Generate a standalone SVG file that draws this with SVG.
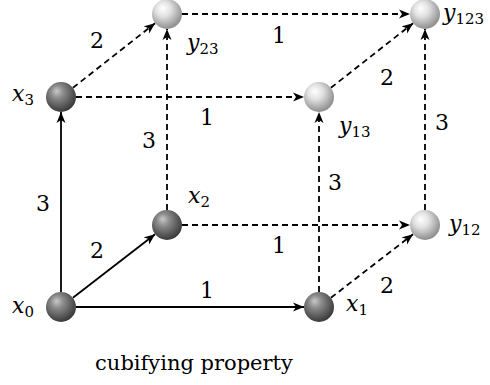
<svg xmlns="http://www.w3.org/2000/svg" width="490" height="385" viewBox="0 0 490 385" font-family="DejaVu Serif, Liberation Serif, serif">
<defs>
<radialGradient id="gDark" cx="0.42" cy="0.38" r="0.62" fx="0.35" fy="0.3">
<stop offset="0" stop-color="#c8c8c8"/>
<stop offset="0.35" stop-color="#8a8a8a"/>
<stop offset="1" stop-color="#3a3a3a"/>
</radialGradient>
<radialGradient id="gLight" cx="0.42" cy="0.38" r="0.62" fx="0.35" fy="0.3">
<stop offset="0" stop-color="#ffffff"/>
<stop offset="0.4" stop-color="#e2e2e2"/>
<stop offset="1" stop-color="#8e8e8e"/>
</radialGradient>
<marker id="arr" markerUnits="userSpaceOnUse" markerWidth="12" markerHeight="10" refX="11" refY="5" orient="auto" viewBox="0 0 12 10">
<path d="M0,0.5 L11,5 L0,9.5 L3,5 Z" fill="#000"/>
</marker>
</defs>
<style>
.e{stroke:#000;stroke-width:1.8;fill:none;marker-end:url(#arr)}
.d{stroke-dasharray:6 4}
text{font-size:22px;fill:#000}
.v{font-style:italic}
.s{font-size:15px;font-style:normal}
.cap{font-size:21px}
.dk{fill:url(#gDark)}
.lt{fill:url(#gLight)}
</style>
<g id="connectors">
<line class="e" x1="76" y1="307" x2="304" y2="307"/>
<line class="e" x1="61" y1="292" x2="61" y2="112"/>
<line class="e" x1="72.9" y1="297.8" x2="155.1" y2="234.2"/>
<line class="e d" x1="72.9" y1="87.8" x2="155.1" y2="23.2"/>
<line class="e d" x1="76" y1="97" x2="304" y2="97"/>
<line class="e d" x1="167" y1="210" x2="167" y2="29"/>
<line class="e d" x1="182" y1="225" x2="410" y2="225"/>
<line class="e d" x1="319" y1="292" x2="319" y2="112"/>
<line class="e d" x1="330.9" y1="297.8" x2="413.1" y2="234.2"/>
<line class="e d" x1="182" y1="14" x2="410" y2="14"/>
<line class="e d" x1="330.9" y1="87.8" x2="413.1" y2="23.2"/>
<line class="e d" x1="425" y1="210" x2="425" y2="29"/>
</g>
<g id="edge-labels" text-anchor="middle">
<text x="97" y="48">2</text>
<text x="279" y="43">1</text>
<text x="207" y="125">1</text>
<text x="149" y="148">3</text>
<text x="387" y="85">2</text>
<text x="442" y="130">3</text>
<text x="335" y="190">3</text>
<text x="43" y="211">3</text>
<text x="97" y="258">2</text>
<text x="207" y="298">1</text>
<text x="279" y="253">1</text>
<text x="387" y="293">2</text>
</g>
<g id="x0"><circle class="dk" cx="61" cy="307" r="15"/><text class="v" x="12" y="313">x<tspan class="s" dy="4">0</tspan></text></g>
<g id="x1"><circle class="dk" cx="319" cy="307" r="15"/><text class="v" x="346" y="311">x<tspan class="s" dy="4">1</tspan></text></g>
<g id="x2"><circle class="dk" cx="167" cy="225" r="15"/><text class="v" x="188" y="203">x<tspan class="s" dy="4">2</tspan></text></g>
<g id="x3"><circle class="dk" cx="61" cy="97" r="15"/><text class="v" x="12" y="101">x<tspan class="s" dy="4">3</tspan></text></g>
<g id="y23"><circle class="lt" cx="167" cy="14" r="15"/><text class="v" x="187" y="50">y<tspan class="s" dy="4">23</tspan></text></g>
<g id="y123"><circle class="lt" cx="425" cy="14" r="15"/><text class="v" x="443" y="20">y<tspan class="s" dy="4">123</tspan></text></g>
<g id="y13"><circle class="lt" cx="319" cy="97" r="15"/><text class="v" x="339" y="133">y<tspan class="s" dy="4">13</tspan></text></g>
<g id="y12"><circle class="lt" cx="425" cy="225" r="15"/><text class="v" x="449" y="231">y<tspan class="s" dy="4">12</tspan></text></g>
<text class="cap" x="194" y="370" text-anchor="middle">cubifying property</text>
</svg>
